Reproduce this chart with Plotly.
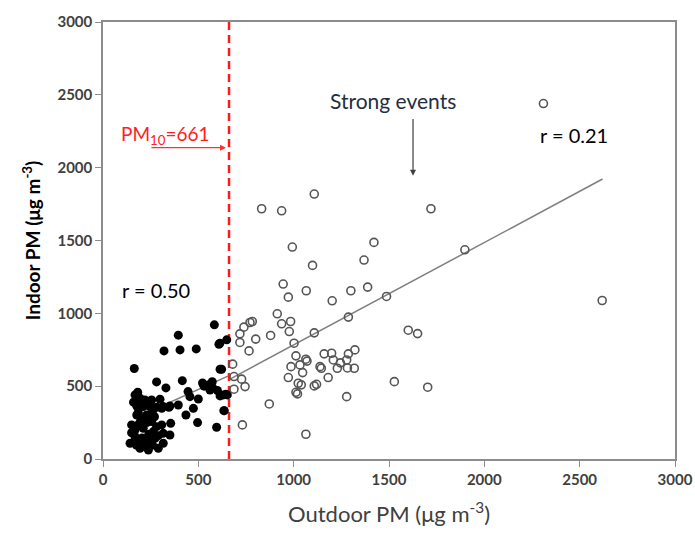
import plotly.graph_objects as go

# Filled points: outdoor PM <= 661 (r = 0.50)
low_x = [584, 395, 320, 404, 489, 608, 649, 164, 614, 281, 330, 416, 522, 573, 561,
         446, 456, 500, 614, 645, 395, 474, 435, 496, 596, 636, 355, 346, 308, 182,
         530, 555, 575, 600, 613, 622, 631, 652, 634,
         168, 194, 220, 255, 299, 177, 211, 246, 281, 316, 351,
         150, 177, 203, 229, 255, 281, 308, 168, 211, 264, 316,
         142, 168, 194, 220, 246, 273, 290, 316, 351, 194, 238,
         185, 200, 230, 260, 150, 180, 240, 205, 175, 260, 225, 290, 195, 270, 160, 215]
low_y = [921, 850, 742, 749, 756, 788, 818, 621, 616, 529, 488, 538, 522, 531, 474,
         463, 428, 412, 433, 445, 371, 348, 302, 250, 218, 332, 245, 355, 348, 458,
         500, 510, 490, 470, 795, 616, 440, 440, 332,
         440, 417, 405, 405, 410, 364, 360, 360, 355, 360, 364,
         234, 302, 268, 302, 257, 222, 234, 199, 211, 188, 176,
         108, 153, 131, 85, 119, 142, 73, 108, 165, 73, 62,
         320, 380, 250, 330, 180, 230, 170, 145, 95, 95, 130, 160, 255, 290, 390, 275]

# Open points: outdoor PM > 661 (r = 0.21)
high_x = [1108, 832, 937, 1720, 993, 1421, 1369, 1099, 1898, 945, 972, 1066, 1202, 1300,
          1388, 1487, 1287, 1108, 1601, 1650, 914, 984, 937, 783, 771, 739, 718, 718, 801,
          879, 766, 977, 1002, 680, 687, 727, 687, 745, 872, 731, 1064, 1528, 1703, 1278,
          1012, 1064, 1070, 986, 1033, 1047, 972, 1024, 1040, 1012, 1020, 1108, 1120, 1138,
          1145, 1160, 1181, 1199, 1208, 1229, 1245, 1278, 1287, 1321, 1318, 1282, 2310, 2618]
high_y = [1819, 1718, 1704, 1718, 1455, 1487, 1366, 1329, 1436, 1201, 1111, 1155, 1086, 1155,
          1180, 1116, 974, 866, 884, 861, 997, 944, 928, 944, 937, 905, 859, 800, 823,
          848, 742, 875, 795, 651, 566, 548, 479, 497, 378, 234, 170, 531, 493, 428,
          708, 685, 672, 634, 646, 593, 559, 520, 509, 458, 447, 502, 513, 634,
          623, 722, 559, 726, 680, 623, 660, 680, 722, 749, 623, 625, 2440, 1088]

# Fitted lines
fit_low_x = [180, 661]
fit_low_y = [288, 572]
fit_high_x = [661, 2620]
fit_high_y = [545, 1922]

threshold = 661

font_fam = "Lato, 'Open Sans', sans-serif"
txt_col = "#404040"

fig = go.Figure()
fig.add_trace(go.Scatter(x=fit_low_x, y=fit_low_y, mode="lines",
                         line=dict(color="#7f7f7f", width=1.5), showlegend=False))
fig.add_trace(go.Scatter(x=fit_high_x, y=fit_high_y, mode="lines",
                         line=dict(color="#7f7f7f", width=1.5), showlegend=False))
fig.add_trace(go.Scatter(x=[threshold, threshold], y=[0, 3000], mode="lines",
                         line=dict(color="#ff1a1a", width=2.5, dash="8px,5px"), showlegend=False))
fig.add_trace(go.Scatter(x=low_x, y=low_y, mode="markers",
                         marker=dict(symbol="circle", size=9, color="black"), showlegend=False))
fig.add_trace(go.Scatter(x=high_x, y=high_y, mode="markers",
                         marker=dict(symbol="circle-open", size=8, color="#555555",
                                     line=dict(color="#555555", width=1.6)), showlegend=False))

# Annotations
fig.add_annotation(x=645, y=2137, ax=246, ay=2137, xref="x", yref="y", axref="x", ayref="y",
                   text="", showarrow=True, arrowhead=2, arrowsize=1, arrowwidth=1.2,
                   arrowcolor="#ff3030")
fig.add_annotation(x=330, y=2225, xref="x", yref="y", text="PM<sub>10</sub>=661",
                   showarrow=False, font=dict(family=font_fam, size=19, color="#ff2020"))
fig.add_annotation(x=1626, y=1945, ax=1626, ay=2344, xref="x", yref="y", axref="x", ayref="y",
                   text="", showarrow=True, arrowhead=2, arrowsize=1, arrowwidth=1.2,
                   arrowcolor="#404040")
fig.add_annotation(x=1521, y=2460, xref="x", yref="y", text="Strong events",
                   showarrow=False, font=dict(family=font_fam, size=21, color="#1f2f3f"))
fig.add_annotation(x=2470, y=2227, xref="x", yref="y", text="r = 0.21",
                   showarrow=False, font=dict(family=font_fam, size=20, color="black"))
fig.add_annotation(x=278, y=1161, xref="x", yref="y", text="r = 0.50",
                   showarrow=False, font=dict(family=font_fam, size=20, color="black"))

axis_common = dict(range=[0, 3000], tickvals=[0, 500, 1000, 1500, 2000, 2500, 3000],
                   showgrid=False, zeroline=False, showline=True, linecolor="#8c8c8c",
                   linewidth=1.5, mirror=True, ticks="outside", ticklen=6,
                   tickcolor="#8c8c8c", tickwidth=1.2, automargin=False,
                   ticklabeloverflow="allow",
                   tickfont=dict(family=font_fam, size=15, color=txt_col, weight="bold"))

fig.update_layout(
    width=695, height=534,
    margin=dict(l=103, r=20, t=22, b=75),
    paper_bgcolor="white", plot_bgcolor="white",
    xaxis=dict(**axis_common,
               title=dict(text="Outdoor PM (μg m<sup>-3</sup>)", standoff=20,
                          font=dict(family=font_fam, size=22, color=txt_col))),
    yaxis=dict(**axis_common,
               title=dict(text="<b>Indoor PM (μg m<sup>-3</sup>)</b>", standoff=12,
                          font=dict(family=font_fam, size=19, color="black"))),
)

# Remove the page's default body margin so the figure fills the window exactly.
fig.write_html("out.html", config={"displayModeBar": False},
               post_script="document.body.style.margin='0';")
